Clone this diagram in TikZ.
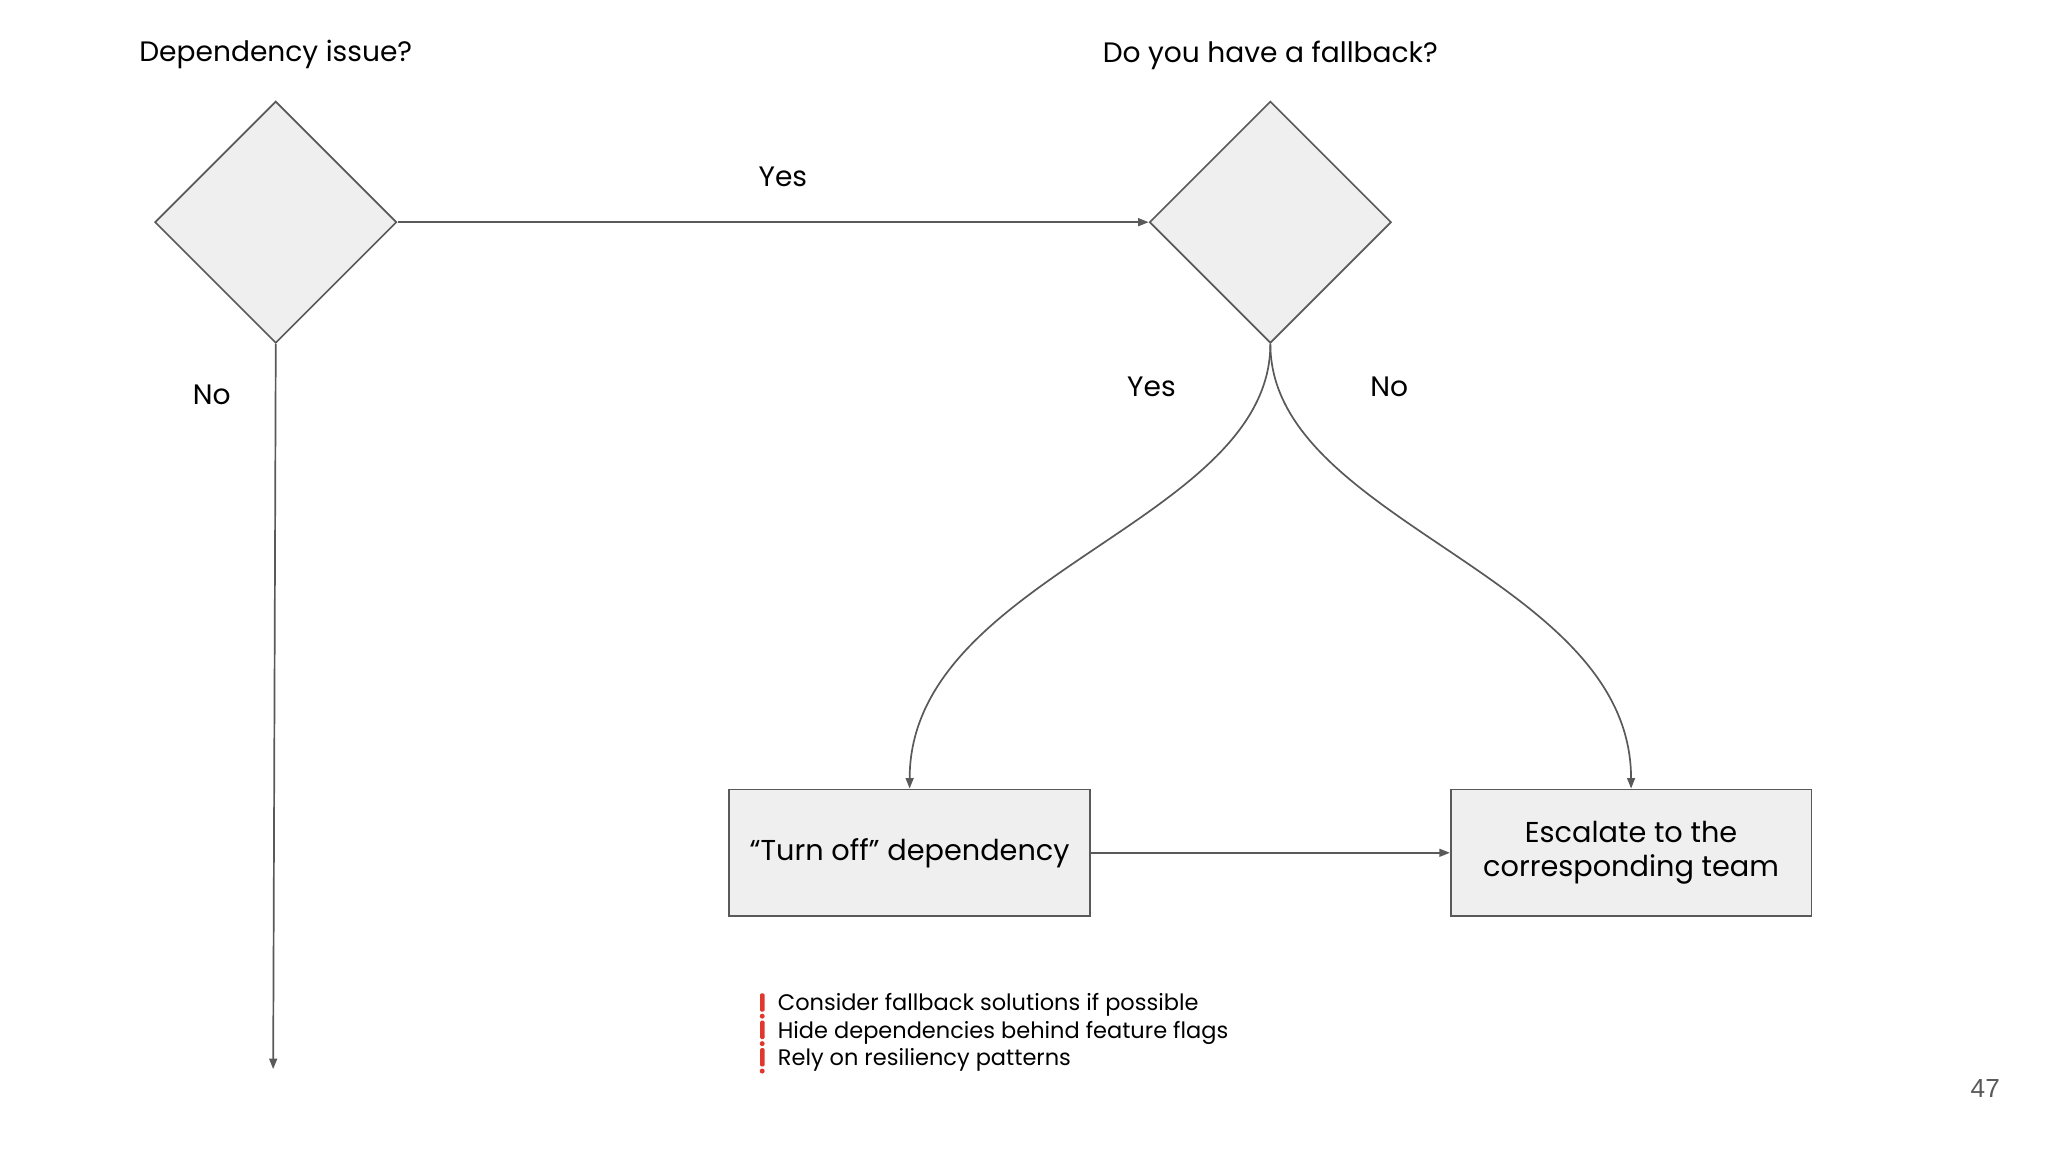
\documentclass[tikz,border=0pt]{standalone}
\usepackage{fontspec}
\setmainfont{Poppins}
\newfontfamily\arialf{Liberation Sans}
\usetikzlibrary{shapes.geometric,arrows.meta}
\definecolor{ln}{HTML}{595959}
\definecolor{fl}{HTML}{EFEFEF}
\definecolor{rd}{HTML}{E0382E}
\tikzset{
  dia/.style={diamond,draw=ln,fill=fl,line width=1.3pt,minimum width=185pt,minimum height=185pt,inner sep=0pt},
  box/.style={draw=ln,fill=fl,line width=1.3pt,minimum width=276pt,minimum height=97pt,inner sep=0pt,align=center,font=\fontsize{22}{26}\selectfont},
  con/.style={draw=ln,line width=1.3pt,-{Triangle[length=8pt,width=6pt]}},
  lbl/.style={font=\fontsize{21.5}{24}\selectfont,text=black},
  note/.style={font=\fontsize{17.2}{21}\selectfont,anchor=west,inner sep=0pt},
}
\begin{document}
\begin{tikzpicture}[x=1pt,y=-1pt]
\useasboundingbox (0,0) rectangle (1567,881.4);
\node[dia] (d1) at (211,170) {};
\node[dia] (d2) at (972,170) {};
\node[lbl] (t1) at (211,42) {Dependency issue?};
\node[lbl] (t2) at (972,42) {Do you have a fallback?};
\node[box] (b1) at (696,652.5) {“Turn off” dependency};
\node[box] (b2) at (1248,652.5) {Escalate to the\\corresponding team};
\coordinate (end) at (209,818);
\draw[con] (d1.east) -- (d2.west);
\draw[con] (d1.south) -- (end);
\draw[con] (d2.south) .. controls (972,400) and (696,440) .. (b1.north);
\draw[con] (d2.south) .. controls (972,400) and (1248,440) .. (b2.north);
\draw[con] (b1.east) -- (b2.west);
\node[lbl] (y1) at (599,135) {Yes};
\node[lbl] (n1) at (162,302) {No};
\node[lbl] (y2) at (881,296) {Yes};
\node[lbl] (n2) at (1063,296) {No};
\foreach \yy/\tx [count=\i] in {769/Consider fallback solutions if possible,790/Hide dependencies behind feature flags,811/Rely on resiliency patterns}{
  \fill[rd,rounded corners=1pt] (581.5,\yy-9) rectangle (585,\yy+5);
  \fill[rd] (583.2,\yy+8.5) circle (1.9);
  \node[note] (nt\i) at (595,\yy) {\tx};
}
\node[font=\arialf\fontsize{20}{22}\selectfont,text=ln] (pg) at (1519,833) {47};
\end{tikzpicture}
\end{document}
